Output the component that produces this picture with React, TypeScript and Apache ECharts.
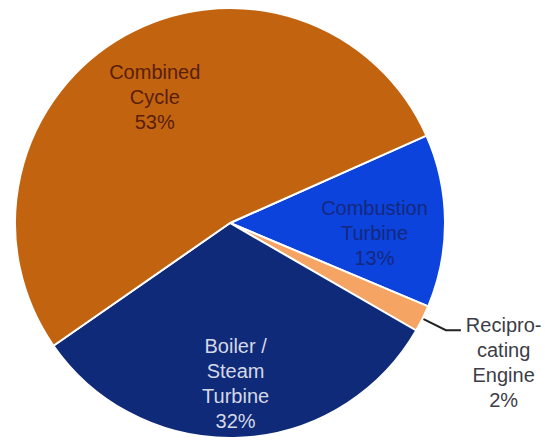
import React, { useEffect, useRef } from "react";
import * as echarts from "echarts";

const categories = ["Combustion Turbine", "Reciprocating Engine", "Boiler / Steam Turbine", "Combined Cycle"];
const labelTexts = [
  ["Combustion", "Turbine", "13%"],
  ["Recipro-", "cating", "Engine", "2%"],
  ["Boiler /", "Steam", "Turbine", "32%"],
  ["Combined", "Cycle", "53%"],
];
const shares = [13, 2, 32, 53];
const colors = ["#0b43dc", "#f6a463", "#0f2a78", "#c2640f"];
const labelColors = ["#16287e", "#3c3d46", "#d4d8e6", "#5a1d08"];

export default function App() {
  const ref = useRef<HTMLDivElement>(null);
  useEffect(() => {
    if (!ref.current) return;
    const chart = echarts.init(ref.current, null, { renderer: "svg" });
    const offsets: Record<number, [number, number]> = {
      0: [34, 11],
      2: [1, 50],
      3: [-21, -30],
    };
    const data = categories.map((name, i) => {
      const isOutside = i === 1;
      const lines = labelTexts[i].map((t) => `{t|${t}}`).join("\n");
      return {
        name,
        value: shares[i],
        itemStyle: { color: colors[i] },
        label: isOutside
          ? {
              show: true,
              position: "outside",
              formatter: lines,
              padding: [64, 0, 0, 0],
              overflow: "none",
              rich: {
                t: {
                  color: labelColors[i],
                  fontSize: 20,
                  lineHeight: 25,
                  fontFamily: "Liberation Sans, Arial, sans-serif",
                  align: "center",
                },
              },
            }
          : {
              show: true,
              position: "inside",
              formatter: lines,
              rich: {
                t: {
                  color: labelColors[i],
                  fontSize: 20,
                  lineHeight: 25,
                  fontFamily: "Liberation Sans, Arial, sans-serif",
                  align: "center",
                },
              },
            },
        labelLine: isOutside
          ? { show: true, length: 26, length2: 15, smooth: false, lineStyle: { color: "#222", width: 2 } }
          : { show: false },
      };
    });
    chart.setOption({
      animation: false,
      backgroundColor: "#ffffff",
      series: [
        {
          type: "pie",
          center: [230, 223],
          radius: 215,
          startAngle: 24,
          clockwise: true,
          avoidLabelOverlap: false,
          itemStyle: { borderColor: "#ffffff", borderWidth: 2 },
          labelLayout: (params: any) => {
            const o = offsets[params.dataIndex];
            if (!o) return {};
            return { dx: o[0], dy: o[1] };
          },
          data,
        },
      ],
    });
    return () => chart.dispose();
  }, []);
  return (
    <div
      ref={ref}
      style={{ position: "fixed", left: 0, top: 0, width: 545, height: 444 }}
    />
  );
}
